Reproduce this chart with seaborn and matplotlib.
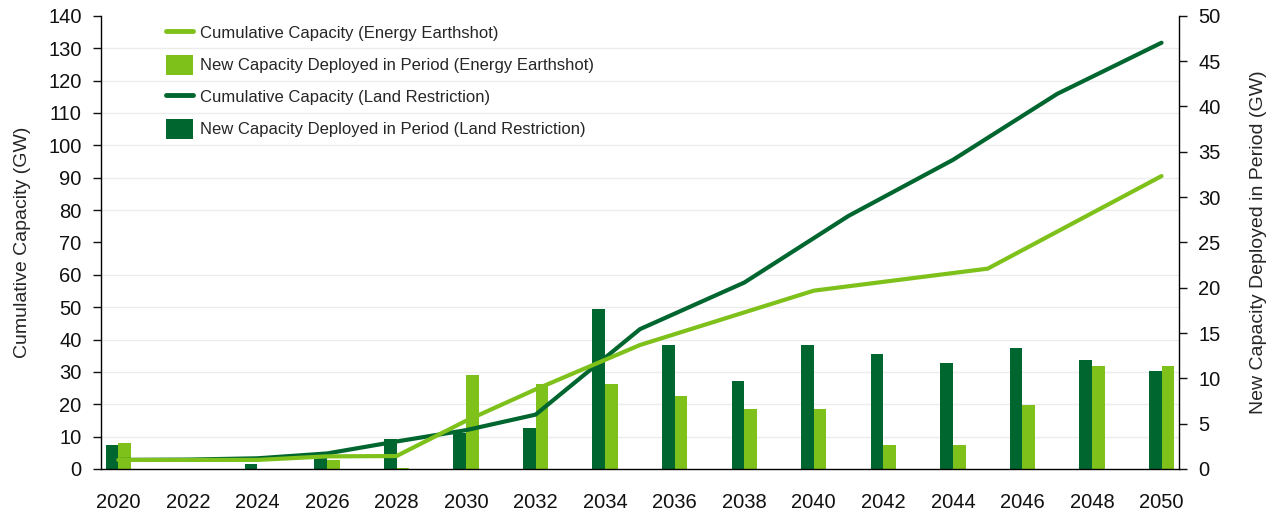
import numpy as np
import pandas as pd
import matplotlib
matplotlib.use('Agg')
import matplotlib.pyplot as plt
from matplotlib.lines import Line2D
from matplotlib.patches import Patch
import seaborn as sns

# data
bar_years = [2020, 2022, 2024, 2026, 2028, 2030, 2032, 2034, 2036, 2038, 2040, 2042, 2044, 2046, 2048, 2050]
new_earthshot = [2.9, 0.0, 0.0, 1.0, 0.1, 10.4, 9.4, 9.4, 8.0, 6.6, 6.6, 2.7, 2.7, 7.1, 11.4, 11.4]
new_land = [2.6, 0.0, 0.6, 1.2, 3.35, 4.0, 4.5, 17.7, 13.7, 9.7, 13.7, 12.7, 11.7, 13.3, 12.0, 10.8]

cum_earthshot_years = [2020, 2024, 2026, 2028, 2030, 2032, 2035, 2040, 2045, 2050]
cum_earthshot = [2.8, 2.8, 3.9, 4.0, 14.9, 24.6, 38.3, 55.1, 61.9, 90.5]
cum_land_years = [2020, 2022, 2024, 2026, 2028, 2030, 2032, 2035, 2038, 2041, 2044, 2047, 2050]
cum_land = [2.8, 2.9, 3.3, 4.8, 8.5, 12.0, 16.8, 43.2, 57.6, 78.2, 95.5, 115.9, 131.7]

x_ticks = list(range(2020, 2051, 2))

LIGHT = '#7fc11b'
DARK = '#00662f'
LBL_EE = 'Energy Earthshot'
LBL_LR = 'Land Restriction'
TICK_FS = 14.5

sns.set_style('white')
plt.rcParams['font.family'] = ['Liberation Sans', 'DejaVu Sans']

bars = pd.DataFrame({
    'year': bar_years * 2,
    'value': new_land + new_earthshot,
    'scenario': [LBL_LR] * len(bar_years) + [LBL_EE] * len(bar_years),
})

fig = plt.figure(figsize=(12.73, 5.12), dpi=100)
ax_bar = fig.add_axes([0.0793, 0.084, 0.8468, 0.885])
ax_line = ax_bar.twinx()

# bars on the bottom axes (right-hand scale)
sns.barplot(data=bars, x='year', y='value', hue='scenario', hue_order=[LBL_LR, LBL_EE],
            palette={LBL_LR: DARK, LBL_EE: LIGHT}, native_scale=True, width=0.365,
            gap=0, errorbar=None, linewidth=0, saturation=1, legend=False, ax=ax_bar)

# cumulative lines on top axes (left-hand scale)
sns.lineplot(x=cum_land_years, y=cum_land, color=DARK, lw=3, ax=ax_line)
sns.lineplot(x=cum_earthshot_years, y=cum_earthshot, color=LIGHT, lw=3, ax=ax_line)

ax_bar.set_xlim(2019.5, 2050.5)
ax_bar.set_ylim(0, 50)
ax_line.set_ylim(0, 140)

ax_bar.yaxis.tick_right()
ax_bar.yaxis.set_label_position('right')
ax_line.yaxis.tick_left()
ax_line.yaxis.set_label_position('left')

ax_bar.set_yticks(np.arange(0, 51, 5))
ax_line.set_yticks(np.arange(0, 141, 10))
ax_bar.set_xticks(x_ticks)
ax_bar.set_xticklabels([str(y) for y in x_ticks])

# light horizontal grid matching the left-hand ticks
ax_bar.set_yticks(np.linspace(0, 50, 15), minor=True)
ax_bar.grid(which='minor', axis='y', color='#ececec', lw=1)
ax_bar.grid(which='major', axis='y', visible=False)
ax_bar.set_axisbelow(True)

ax_bar.tick_params(axis='x', length=0, pad=17, labelsize=TICK_FS, colors='#111111')
ax_bar.tick_params(axis='y', which='major', direction='out', length=6, width=1, pad=8,
                   labelsize=TICK_FS, colors='#111111', right=True, left=False)
ax_bar.tick_params(axis='y', which='minor', length=0)
ax_line.tick_params(axis='y', direction='out', length=6, width=1, pad=8,
                    labelsize=TICK_FS, colors='#111111')

for s in ['top', 'left']:
    ax_bar.spines[s].set_visible(False)
for s in ['top', 'right', 'bottom']:
    ax_line.spines[s].set_visible(False)
for ax in [ax_bar, ax_line]:
    for sp in ax.spines.values():
        sp.set_color('black')
        sp.set_linewidth(1)

ax_bar.set_xlabel('')
ax_bar.set_ylabel('New Capacity Deployed in Period (GW)', fontsize=14, labelpad=21)
ax_line.set_ylabel('Cumulative Capacity (GW)', fontsize=14, labelpad=12)
ax_line.set_xlabel('')

handles = [
    Line2D([0], [0], color=LIGHT, lw=3.5),
    Patch(facecolor=LIGHT, edgecolor='none'),
    Line2D([0], [0], color=DARK, lw=3.5),
    Patch(facecolor=DARK, edgecolor='none'),
]
labels = [
    'Cumulative Capacity (Energy Earthshot)',
    'New Capacity Deployed in Period (Energy Earthshot)',
    'Cumulative Capacity (Land Restriction)',
    'New Capacity Deployed in Period (Land Restriction)',
]
ax_line.legend(handles, labels, loc='upper left', bbox_to_anchor=(0.06, 0.985),
               frameon=False, fontsize=12, handlelength=1.65, handleheight=1.5,
               handletextpad=0.4, labelspacing=0.7, borderpad=0, borderaxespad=0)

fig.savefig('out.png', dpi=100)
